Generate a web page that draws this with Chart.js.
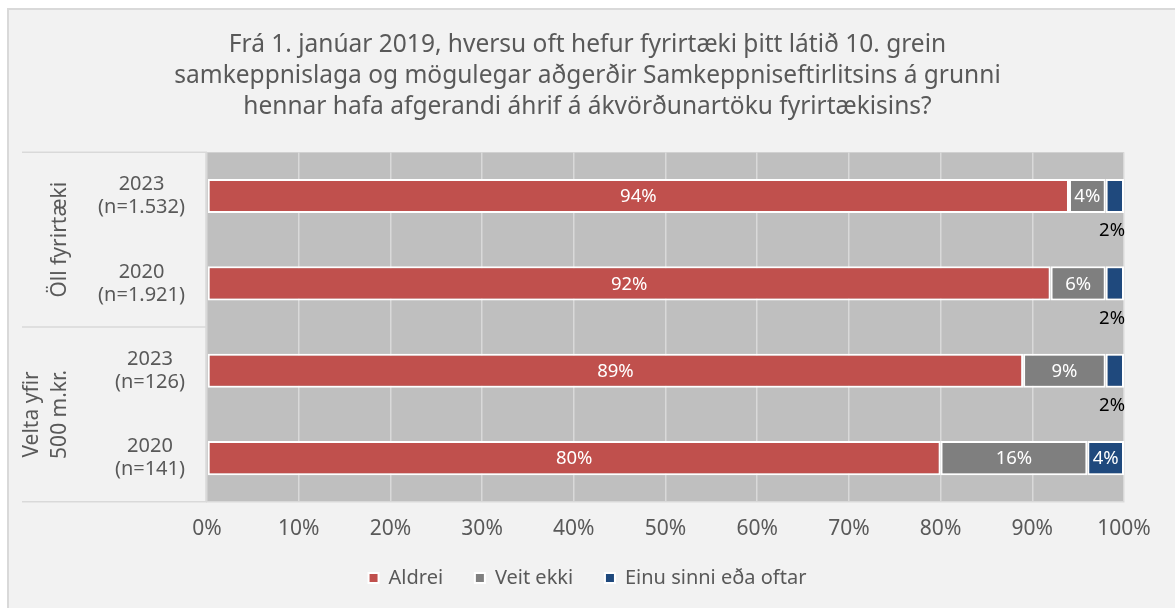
<!DOCTYPE html>
<html>
<head>
<meta charset="utf-8">
<script src="https://cdn.jsdelivr.net/npm/chart.js@4/dist/chart.umd.min.js"></script>
<style>
  html, body { margin: 0; padding: 0; background: #ffffff; }
  #wrap { width: 1175px; height: 608px; }
</style>
</head>
<body>
<div id="wrap"><canvas id="myChart" width="1175" height="608"></canvas></div>
<script>
// data
const categories = [['2023', '(n=1.532)'], ['2020', '(n=1.921)'], ['2023', '(n=126)'], ['2020', '(n=141)']];
const groupLabels = [['Öll fyrirtæki'], ['Velta yfir', '500 m.kr.']];
const groupSizes = [2, 2];
const aldrei = [94, 92, 89, 80];
const veitEkki = [4, 6, 9, 16];
const einuSinni = [2, 2, 2, 4];
const xTicks = [0, 10, 20, 30, 40, 50, 60, 70, 80, 90, 100];

const FONT = "'Noto Sans', 'DejaVu Sans', sans-serif";
const TXT = '#595959';

// background, plot fill and the group separators at the left
const decor = {
  id: 'decor',
  beforeDraw(chart) {
    const { ctx, chartArea: a, width, height } = chart;
    ctx.save();
    ctx.fillStyle = '#ffffff';
    ctx.fillRect(0, 0, width, height);
    ctx.fillStyle = '#f2f2f2';
    ctx.fillRect(8, 9, width - 8, height - 9);
    ctx.fillStyle = '#d9d9d9';
    ctx.fillRect(8, 8, width - 8, 2);
    ctx.fillRect(7, 8, 2, height - 8);
    ctx.fillStyle = '#bfbfbf';
    ctx.fillRect(a.left, a.top, a.right - a.left, a.bottom - a.top);
    ctx.restore();
  },
  afterDraw(chart) {
    const { ctx, chartArea: a } = chart;
    const y = chart.scales.y;
    ctx.save();
    ctx.strokeStyle = '#d9d9d9';
    ctx.lineWidth = 1.5;
    // category labels
    ctx.fillStyle = TXT;
    ctx.font = '20px ' + FONT;
    ctx.textAlign = 'center';
    ctx.textBaseline = 'middle';
    categories.forEach((lines, i) => {
      const cy = y.getPixelForValue(i);
      const w = Math.max(...lines.map(l => ctx.measureText(l).width));
      const cx = a.left - 22 - w / 2;
      lines.forEach((l, j) => ctx.fillText(l, cx, cy + (j - (lines.length - 1) / 2) * 23));
    });
    // group separators and labels
    const band = (a.bottom - a.top) / categories.length;
    let start = 0;
    const lx = 22;
    ctx.beginPath();
    ctx.moveTo(lx, a.top); ctx.lineTo(a.left, a.top);
    ctx.moveTo(a.left - 1, a.top); ctx.lineTo(a.left - 1, a.bottom);
    ctx.stroke();
    ctx.font = '21px ' + FONT;
    groupLabels.forEach((lines, g) => {
      const top = a.top + start * band;
      const bot = top + groupSizes[g] * band;
      ctx.beginPath();
      ctx.moveTo(lx, bot); ctx.lineTo(a.left, bot);
      ctx.stroke();
      ctx.save();
      ctx.translate(60, (top + bot) / 2);
      ctx.rotate(-Math.PI / 2);
      lines.forEach((l, j) => ctx.fillText(l, 0, (j - (lines.length - 1)) * 28));
      ctx.restore();
      start += groupSizes[g];
    });
    ctx.restore();
  }
};

// value labels
const valueLabels = {
  id: 'valueLabels',
  afterDatasetsDraw(chart) {
    const { ctx } = chart;
    ctx.save();
    ctx.font = '18.5px ' + FONT;
    ctx.textBaseline = 'middle';
    chart.data.datasets.forEach((ds, di) => {
      const meta = chart.getDatasetMeta(di);
      meta.data.forEach((bar, i) => {
        const v = ds.data[i];
        const w = Math.abs(bar.x - bar.base);
        const txt = v + '%';
        if (w >= 28) {
          ctx.fillStyle = '#ffffff';
          ctx.textAlign = 'center';
          ctx.fillText(txt, (bar.x + bar.base) / 2, bar.y + 1);
        } else {
          ctx.fillStyle = '#000000';
          ctx.textAlign = 'right';
          ctx.fillText(txt, bar.x + 1, bar.y + 35);
        }
      });
    });
    ctx.restore();
  }
};

const ctx = document.getElementById('myChart').getContext('2d');
new Chart(ctx, {
  type: 'bar',
  data: {
    labels: categories,
    datasets: [
      { label: 'Aldrei', data: aldrei, backgroundColor: '#c0504d' },
      { label: 'Veit ekki', data: veitEkki, backgroundColor: '#7f7f7f' },
      { label: 'Einu sinni eða oftar', data: einuSinni, backgroundColor: '#1f497d' }
    ].map(d => Object.assign(d, {
      borderColor: '#ffffff', borderWidth: 2, borderSkipped: false,
      barPercentage: 0.39, categoryPercentage: 1
    }))
  },
  options: {
    indexAxis: 'y',
    responsive: false,
    animation: false,
    layout: { padding: { left: 20, right: 20, top: 0, bottom: 10 } },
    scales: {
      x: {
        stacked: true, min: 0, max: 100,
        afterBuildTicks: s => { s.ticks = xTicks.map(v => ({ value: v })); },
        ticks: { color: TXT, font: { size: 21, family: FONT }, padding: 15, callback: v => v + '%' },
        grid: { color: '#d9d9d9', lineWidth: 1.5, drawTicks: false },
        border: { color: '#d9d9d9', width: 1.5 }
      },
      y: {
        stacked: true,
        ticks: { display: false },
        grid: { display: false, drawTicks: false },
        border: { display: false },
        afterFit: s => { s.width = 187; }
      },
      // empty right-hand spacer so the plot ends where the reference's does
      yRight: {
        position: 'right',
        ticks: { display: false },
        grid: { display: false, drawTicks: false },
        border: { display: false },
        afterFit: s => { s.width = 31; }
      }
    },
    plugins: {
      title: {
        display: true,
        text: [
          'Frá 1. janúar 2019, hversu oft hefur fyrirtæki þitt látið 10. grein',
          'samkeppnislaga og mögulegar aðgerðir Samkeppniseftirlitsins á grunni',
          'hennar hafa afgerandi áhrif á ákvörðunartöku fyrirtækisins?'
        ],
        color: TXT,
        font: { size: 24.5, family: FONT, weight: 'normal', lineHeight: 1.27 },
        padding: { top: 29, bottom: 30 }
      },
      legend: {
        position: 'bottom',
        labels: {
          color: TXT, font: { size: 20, family: FONT },
          boxWidth: 10, boxHeight: 10, padding: 11,
          generateLabels: chart => Chart.defaults.plugins.legend.labels.generateLabels(chart)
            .map((l, i, all) => Object.assign(l, { text: i < all.length - 1 ? l.text + '    ' : l.text }))
        }
      },
      tooltip: { enabled: false }
    }
  },
  plugins: [decor, valueLabels]
});
</script>
</body>
</html>
